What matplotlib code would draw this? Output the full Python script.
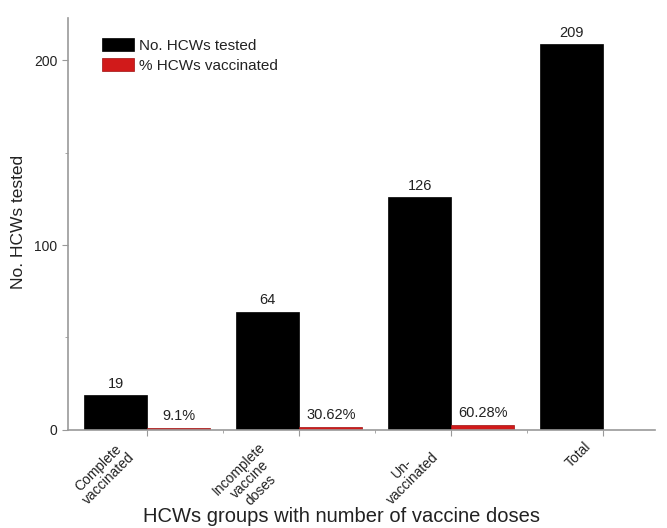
import matplotlib
matplotlib.use("Agg")
import matplotlib.pyplot as plt
import matplotlib.transforms as mtransforms
import numpy as np
from matplotlib.ticker import FixedLocator

categories = ["Complete\nvaccinated", "Incomplete\nvaccine\ndoses", "Un-\nvaccinated", "Total"]
tested = [19, 64, 126, 209]
vacc_bar = [0.8, 1.6, 2.7, 0]
vacc_labels = ["9.1%", "30.62%", "60.28%", ""]

plt.rcParams['font.family'] = ['Liberation Sans', 'DejaVu Sans']
fig = plt.figure(figsize=(6.67, 5.28), dpi=100)
ax = fig.add_axes([0.102, 0.186, 0.880, 0.780])

x = np.arange(1, len(categories) + 1)
w = 0.415
ax.bar(x - w / 2, tested, width=w, color="black", edgecolor="black", linewidth=0.5,
       label="No. HCWs tested")
ax.bar(x + w / 2, vacc_bar, width=w, color="#d11a1a", edgecolor="#a01010", linewidth=0.5,
       label="% HCWs vaccinated")

txtc = "#222222"
for xi, v in zip(x, tested):
    ax.annotate(str(v), (xi - w / 2, v), xytext=(0, 3), textcoords="offset points",
                ha="center", va="bottom", fontsize=10.5, color=txtc)
for xi, v, lab in zip(x, vacc_bar, vacc_labels):
    if lab:
        ax.annotate(lab, (xi + w / 2, v), xytext=(0, 3.5), textcoords="offset points",
                    ha="center", va="bottom", fontsize=10.5, color=txtc)

ax.set_xlim(0.48, 4.34)
ax.set_ylim(0, 223)
ax.yaxis.set_major_locator(FixedLocator([0, 100, 200]))
ax.yaxis.set_minor_locator(FixedLocator([50, 150]))
ax.set_xticks(x)
ax.set_xticks(x[:-1] + 0.5, minor=True)
ax.set_xticklabels([])
off = mtransforms.ScaledTranslation(-10 / 100, -10 / 100, fig.dpi_scale_trans)
trans = ax.get_xaxis_transform() + off
for xi, cat in zip(x, categories):
    ax.text(xi, 0, cat, transform=trans, rotation=45, ha="right", va="top",
            ma="center", fontsize=10, color=txtc, linespacing=1.1, clip_on=False)

for s in ["top", "right"]:
    ax.spines[s].set_visible(False)
for s in ["left", "bottom"]:
    ax.spines[s].set_color("#999999")
    ax.spines[s].set_linewidth(1.2)
ax.tick_params(axis="both", which="major", direction="out", length=4, color="#999999",
               labelsize=10, labelcolor=txtc)
ax.tick_params(axis="both", which="minor", direction="out", length=2.5, color="#999999")

ax.set_xlabel("HCWs groups with number of vaccine doses", fontsize=14.5, color=txtc)
ax.xaxis.set_label_coords(0.466, -0.188)
ax.set_ylabel("No. HCWs tested", fontsize=12.5, color=txtc)
ax.yaxis.set_label_coords(-0.072, 0.505)

ax.legend(loc="upper left", bbox_to_anchor=(0.035, 0.985), frameon=False, fontsize=11,
          handlelength=2.1, handleheight=0.95, handletextpad=0.3, labelspacing=0.35,
          labelcolor=txtc)

fig.savefig("out.png", dpi=100)
